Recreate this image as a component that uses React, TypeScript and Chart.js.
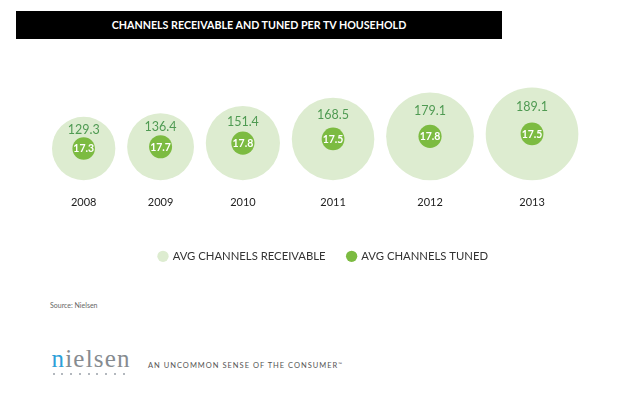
import React, { useEffect, useRef } from "react";
import { Chart, registerables } from "chart.js";

Chart.register(...registerables);

// ---- data ----
const years: string[] = ["2008", "2009", "2010", "2011", "2012", "2013"];
const receivable: number[] = [129.3, 136.4, 151.4, 168.5, 179.1, 189.1];
const tuned: number[] = [17.3, 17.7, 17.8, 17.5, 17.8, 17.5];
const seriesNames: string[] = ["AVG CHANNELS RECEIVABLE", "AVG CHANNELS TUNED"];

// ---- layout constants ----
const CANVAS_W = 640;
const CANVAS_H = 272;
const PAD_LEFT = 7;
const PX_PER_UNIT = 0.245; // outer bubble: pixels per channel
const INNER_PX_PER_UNIT = 0.65; // inner bubble: pixels per channel
const LEFT_EDGE_PX = 52;
const GAP_PX = 11.8;
const BASE_PX = 181; // pixel row where all outer bubbles rest
const AREA_BOTTOM_PX = 230; // chart area bottom (legend starts below)

const COL_OUTER = "#ddecd0";
const COL_INNER = "#7cbb41";
const COL_VALUE = "#4f9a52";

// packed centre positions (in channel units) derived from the values
const xCentres: number[] = (() => {
  const out: number[] = [];
  let edge = LEFT_EDGE_PX / PX_PER_UNIT;
  receivable.forEach((v) => {
    const c = edge + v;
    out.push(c);
    edge = c + v + GAP_PX / PX_PER_UNIT;
  });
  return out;
})();

const labelPlugin = {
  id: "bubbleLabels",
  afterDatasetsDraw(chart: any) {
    const { ctx } = chart;
    const xs = chart.scales.x;
    const ys = chart.scales.y;
    ctx.save();
    ctx.textAlign = "center";
    ctx.textBaseline = "middle";
    years.forEach((yr, i) => {
      const px = xs.getPixelForValue(xCentres[i]);
      const cy = ys.getPixelForValue(receivable[i]);
      const rOuter = receivable[i] * PX_PER_UNIT;
      ctx.fillStyle = COL_VALUE;
      ctx.font = "12.5px Lato";
      ctx.fillText(receivable[i].toFixed(1), px, cy - rOuter * 0.58);
      ctx.fillStyle = "#ffffff";
      ctx.font = "bold 10.5px Lato";
      ctx.fillText(tuned[i].toFixed(1), px, cy + 0.5);
      ctx.fillStyle = "#222222";
      ctx.font = "11px Lato";
      ctx.fillText(yr, px, ys.getPixelForValue(0) + 22);
    });
    ctx.restore();
  },
};

export default function App() {
  const ref = useRef<HTMLCanvasElement | null>(null);

  useEffect(() => {
    if (!ref.current) return;
    const yMax = BASE_PX / PX_PER_UNIT;
    const yMin = -(AREA_BOTTOM_PX - BASE_PX) / PX_PER_UNIT;
    const chart = new Chart(ref.current, {
      type: "bubble",
      data: {
        datasets: [
          {
            label: seriesNames[0],
            order: 2,
            data: receivable.map((v, i) => ({ x: xCentres[i], y: v, r: v * PX_PER_UNIT })),
            backgroundColor: COL_OUTER,
            borderWidth: 0,
            hoverRadius: 0,
            hoverBorderWidth: 0,
          },
          {
            label: seriesNames[1],
            order: 1,
            data: tuned.map((t, i) => ({ x: xCentres[i], y: receivable[i], r: t * INNER_PX_PER_UNIT })),
            backgroundColor: COL_INNER,
            borderWidth: 0,
            hoverRadius: 0,
            hoverBorderWidth: 0,
          },
        ],
      },
      options: {
        responsive: false,
        animation: false,
        events: [],
        layout: { padding: { left: PAD_LEFT, right: 0, top: 0, bottom: 0 }, autoPadding: false },
        scales: {
          x: {
            type: "linear",
            display: false,
            min: PAD_LEFT / PX_PER_UNIT,
            max: CANVAS_W / PX_PER_UNIT,
          },
          y: { type: "linear", display: false, min: yMin, max: yMax },
        },
        plugins: {
          tooltip: { enabled: false },
          legend: {
            display: true,
            position: "bottom",
            labels: {
              usePointStyle: true,
              pointStyle: "circle",
              boxWidth: 8,
              boxHeight: 8,
              padding: 22,
              color: "#333333",
              font: { family: "Lato", size: 11.3 },
              sort: (a: any, b: any) => a.datasetIndex - b.datasetIndex,
            },
          },
        },
      },
      plugins: [labelPlugin],
    });
    return () => chart.destroy();
  }, []);

  return (
    <div
      style={{
        position: "absolute",
        left: 0,
        top: 0,
        width: 640,
        height: 397,
        background: "#ffffff",
        overflow: "hidden",
        fontFamily: "Lato, sans-serif",
      }}
    >
      <canvas
        ref={ref}
        width={CANVAS_W}
        height={CANVAS_H}
        style={{ position: "absolute", left: 0, top: 0, width: CANVAS_W, height: CANVAS_H }}
      />
      <div
        style={{
          position: "absolute",
          left: 16,
          top: 11,
          width: 486,
          height: 28,
          background: "#000000",
          color: "#ffffff",
          fontWeight: 700,
          fontSize: 10.7,
          lineHeight: "28px",
          textAlign: "center",
        }}
      >
        CHANNELS RECEIVABLE AND TUNED PER TV HOUSEHOLD
      </div>
      <div
        style={{
          position: "absolute",
          left: 50,
          top: 300,
          fontSize: 7,
          lineHeight: "10px",
          color: "#666666",
        }}
      >
        Source: Nielsen
      </div>
      <div
        style={{
          position: "absolute",
          left: 51.5,
          top: 346.4,
          fontFamily: "'Liberation Serif', serif",
          fontSize: 25,
          lineHeight: "25px",
          letterSpacing: 1.2,
          color: "#868b90",
          whiteSpace: "nowrap",
        }}
      >
        <span style={{ color: "#2d9fd8" }}>n</span>ielsen
      </div>
      {Array.from({ length: 9 }).map((_, i) => (
        <div
          key={i}
          style={{
            position: "absolute",
            left: 52.5 + i * 8.75,
            top: 373.2,
            width: 2.2,
            height: 2.2,
            borderRadius: "50%",
            background: "#9aa1a8",
          }}
        />
      ))}
      <div
        style={{
          position: "absolute",
          left: 148,
          top: 361,
          fontSize: 7.5,
          lineHeight: "10px",
          letterSpacing: 1,
          color: "#555555",
          whiteSpace: "nowrap",
        }}
      >
        AN UNCOMMON SENSE OF THE CONSUMER
        <sup style={{ fontSize: 5, verticalAlign: "top", lineHeight: "6px" }}>™</sup>
      </div>
    </div>
  );
}
